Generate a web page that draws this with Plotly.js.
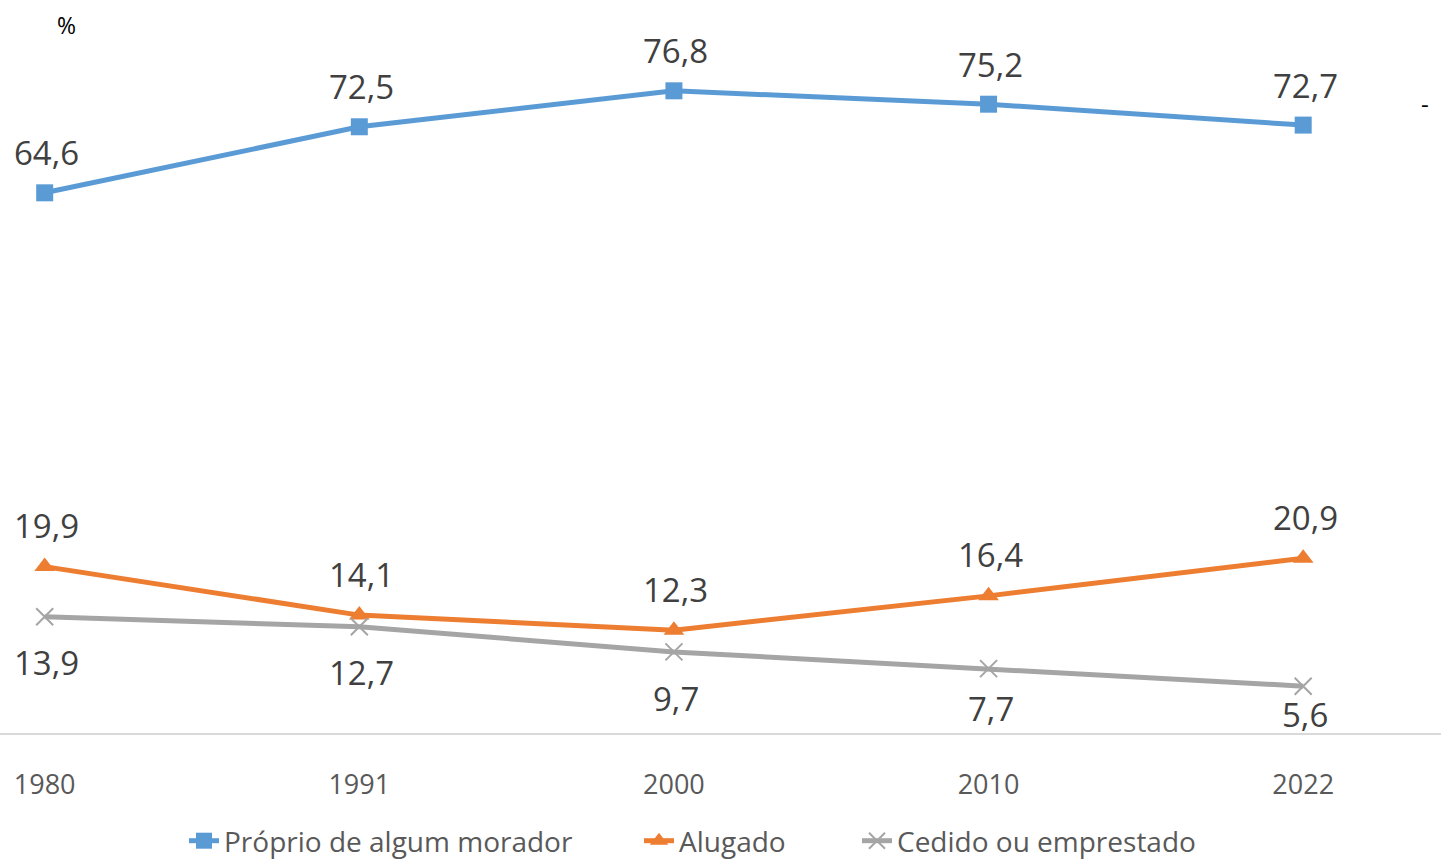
<!DOCTYPE html>
<html>
<head>
<meta charset="utf-8">
<script src="https://cdn.plot.ly/plotly-3.0.1.min.js"></script>
<style>html,body{margin:0;padding:0;background:#fff;}#chart{width:1441px;height:862px;}</style>
</head>
<body>
<div id="chart"></div>
<script>
const years = ["1980", "1991", "2000", "2010", "2022"];
const proprio = [64.6, 72.5, 76.8, 75.2, 72.7];
const alugado = [19.9, 14.1, 12.3, 16.4, 20.9];
const cedido = [13.9, 12.7, 9.7, 7.7, 5.6];
const seriesNames = ["Próprio de algum morador", "Alugado", "Cedido ou emprestado"];

const FONT = "Open Sans, Lato, sans-serif";
const fmt = v => v.toFixed(1).replace(".", ",");
const W = 1441, H = 862, B = 129, PH = H - B;

const traces = [
  {x: years, y: proprio, name: seriesNames[0], type: "scatter", mode: "lines+markers", legend: "legend",
   line: {color: "#5B9BD5", width: 5}, marker: {symbol: "square", size: 17, color: "#5B9BD5"}},
  {x: years, y: alugado, name: seriesNames[1], type: "scatter", mode: "lines+markers", legend: "legend2",
   line: {color: "#ED7D31", width: 5}, marker: {symbol: "triangle-up", size: 18, color: "#ED7D31"}},
  {x: years, y: cedido, name: seriesNames[2], type: "scatter", mode: "lines+markers", legend: "legend3",
   line: {color: "#A5A5A5", width: 5}, marker: {symbol: "x-thin", size: 17, color: "#A5A5A5", line: {color: "#A5A5A5", width: 2}}}
];

// label offsets (px) relative to each point
const shiftProprio = [40, 40, 40, 40, 40];
const shiftAlugado = [41, 41, 41, 41, 41];
const shiftCedido = [-46, -46, -47, -40, -28];

const annotations = [];
function addLabels(vals, shifts) {
  vals.forEach((v, i) => {
    annotations.push({x: i, y: v, xref: "x", yref: "y", text: fmt(v), showarrow: false,
      xanchor: "center", yanchor: "middle",
      yshift: shifts[i], xshift: 2, font: {family: FONT, size: 33, color: "#404040"}});
  });
}
addLabels(proprio, shiftProprio);
addLabels(alugado, shiftAlugado);
addLabels(cedido, shiftCedido);
annotations.push({x: 66 / W, y: 1 - 25 / PH, xref: "paper", yref: "paper", text: "%",
  xanchor: "center", yanchor: "middle", showarrow: false, font: {family: FONT, size: 23, color: "#000"}});
annotations.push({x: 1425 / W, y: 1 - 103 / PH, xref: "paper", yref: "paper", text: "-",
  xanchor: "center", yanchor: "middle", showarrow: false, font: {family: FONT, size: 24, color: "#000"}});

const legFont = {family: FONT, size: 28, color: "#595959"};
const legY = -(841 - PH) / PH;
function leg(xpx) {
  return {orientation: "h", x: xpx / W, xanchor: "left", y: legY, yanchor: "middle",
    font: legFont, bgcolor: "rgba(0,0,0,0)", borderwidth: 0};
}

const layout = {
  width: W, height: H,
  margin: {l: 0, r: 0, t: 0, b: B, autoexpand: false},
  paper_bgcolor: "#fff", plot_bgcolor: "#fff",
  showlegend: true,
  legend: leg(184),
  legend2: leg(639),
  legend3: leg(857),
  xaxis: {type: "category", range: [-0.142, 4.438], showgrid: false, zeroline: false,
    automargin: false,
    showline: true, linecolor: "#D9D9D9", linewidth: 2,
    ticks: "outside", ticklen: 27, tickcolor: "rgba(0,0,0,0)",
    tickfont: {family: FONT, size: 27, color: "#595959"}},
  yaxis: {range: [0, 87.66], visible: false, showgrid: false, zeroline: false, automargin: false},
  annotations: annotations
};

Plotly.newPlot("chart", traces, layout, {displayModeBar: false, staticPlot: true});
</script>
</body>
</html>
